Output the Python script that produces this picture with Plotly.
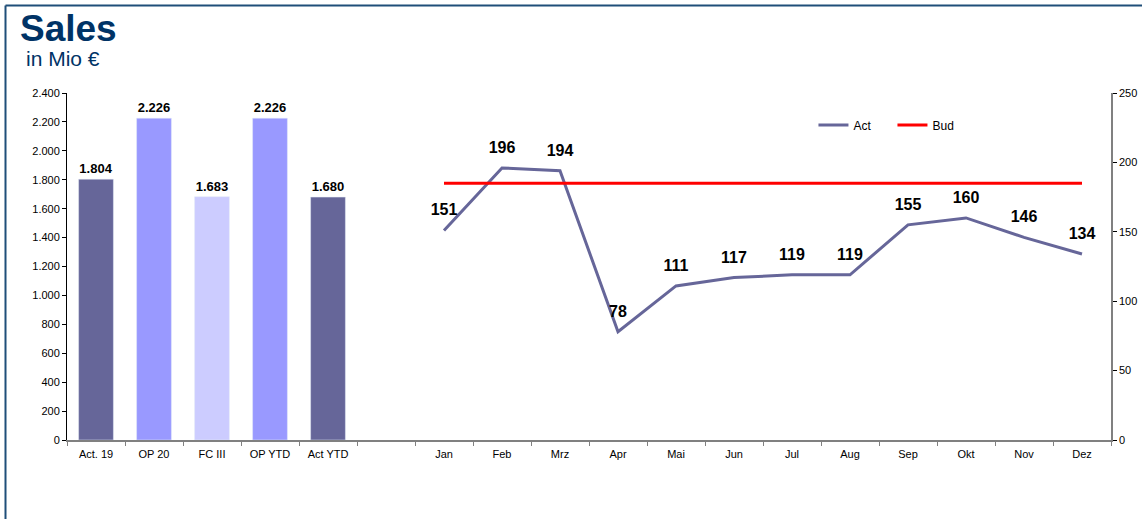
import plotly.graph_objects as go

bar_cats = ["Act. 19", "OP 20", "FC III", "OP YTD", "Act YTD"]
bar_vals = [1804, 2226, 1683, 2226, 1680]
bar_colors = ["#666699", "#9999FF", "#CCCCFF", "#9999FF", "#666699"]
gap_cat = [" "]
months = ["Jan", "Feb", "Mrz", "Apr", "Mai", "Jun", "Jul", "Aug", "Sep", "Okt", "Nov", "Dez"]
act_vals = [151, 196, 194, 78, 111, 117, 119, 119, 155, 160, 146, 134]
bud_vals = [185] * 12

all_cats = bar_cats + gap_cat + months

FONT = "Liberation Sans, Arial, sans-serif"

fig = go.Figure()
fig.add_trace(go.Bar(
    x=bar_cats, y=bar_vals, marker_color=bar_colors, width=0.6,
    text=bar_vals, texttemplate="<b>%{y:,}</b>", textposition="outside",
    textfont=dict(size=13, color="black", family=FONT), cliponaxis=False,
    showlegend=False, yaxis="y",
))
fig.add_trace(go.Scatter(
    x=months, y=act_vals, mode="lines+markers+text", name="Act",
    line=dict(color="#666699", width=3),
    marker=dict(size=16, color="rgba(0,0,0,0)"),
    text=[f"<b>{v}</b>" for v in act_vals], textposition="top center",
    textfont=dict(size=16, color="black", family=FONT), cliponaxis=False,
    yaxis="y2",
))
fig.add_trace(go.Scatter(
    x=months, y=bud_vals, mode="lines", name="Bud",
    line=dict(color="#FF0000", width=3), yaxis="y2",
))

border = "#1F4E79"
fig.update_layout(
    width=1142, height=519,
    margin=dict(l=67, r=31, t=93, b=79, autoexpand=False),
    paper_bgcolor="white", plot_bgcolor="white",
    separators=",.",
    font=dict(family=FONT, size=11, color="black"),
    xaxis=dict(
        type="category", categoryorder="array", categoryarray=all_cats,
        range=[-0.5, len(all_cats) - 0.5], automargin=False,
        showline=True, linecolor="#808080", linewidth=1.5,
        ticks="outside", tickson="boundaries", ticklen=4, tickcolor="#808080",
        showgrid=False, tickfont=dict(size=11), ticklabelstandoff=3,
    ),
    yaxis=dict(
        range=[0, 2400], dtick=200, tickformat=",d", automargin=False,
        showline=True, linecolor="black", linewidth=1,
        ticks="outside", ticklen=4, tickcolor="black",
        showgrid=False, zeroline=False, tickfont=dict(size=11),
    ),
    yaxis2=dict(
        range=[0, 250], dtick=50, overlaying="y", side="right", automargin=False,
        showline=True, linecolor="#808080", linewidth=1.5,
        ticks="outside", ticklen=4, tickcolor="black",
        showgrid=False, zeroline=False, tickfont=dict(size=11),
    ),
    legend=dict(
        orientation="h", x=0.715, y=0.908, xanchor="left", yanchor="middle",
        font=dict(size=12), bgcolor="rgba(0,0,0,0)", itemwidth=30,
        entrywidth=34,
    ),
    annotations=[
        dict(text="<b>Sales</b>", xref="paper", yref="paper",
             x=(18 - 67) / 1044, y=(440 - 6) / 347, xanchor="left", yanchor="top",
             showarrow=False, font=dict(size=37, color="#003366", family=FONT)),
        dict(text="in Mio €", xref="paper", yref="paper",
             x=(24 - 67) / 1044, y=(440 - 45) / 347, xanchor="left", yanchor="top",
             showarrow=False, font=dict(size=21, color="#003366", family=FONT)),
    ],
    shapes=[
        dict(type="line", xref="paper", yref="paper",
             x0=(5.5 - 67) / 1044, x1=(5.5 - 67) / 1044,
             y0=(440 - 5.5) / 347, y1=(440 - 530) / 347,
             line=dict(color=border, width=2)),
        dict(type="line", xref="paper", yref="paper",
             x0=(5.5 - 67) / 1044, x1=(1150 - 67) / 1044,
             y0=(440 - 5.5) / 347, y1=(440 - 5.5) / 347,
             line=dict(color=border, width=2)),
    ],
)

fig.write_html("out.html", config={"displayModeBar": False},
               post_script="document.body.style.margin='0';")
